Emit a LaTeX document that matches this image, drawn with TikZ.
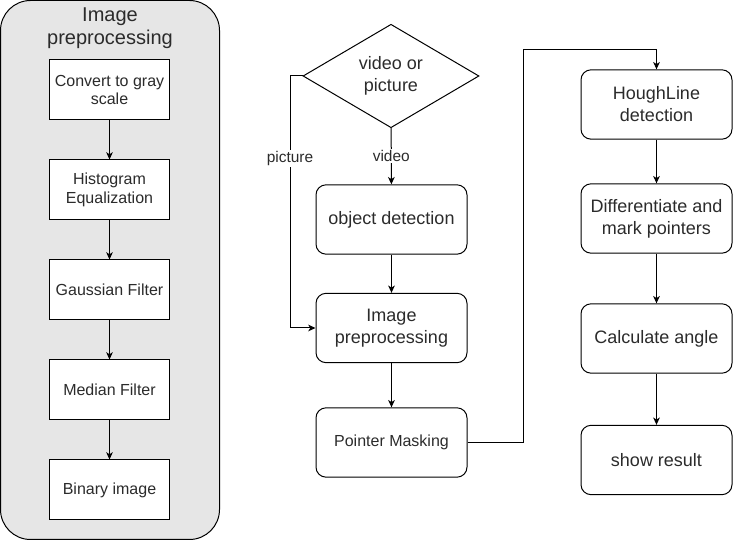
\documentclass[tikz,border=0pt]{standalone}
\usepackage{fontspec}
\setmainfont{Liberation Sans}
\usepackage{xcolor}
\usetikzlibrary{shapes.geometric}
\usetikzlibrary{arrows.meta}
\definecolor{panelgray}{HTML}{E6E6E6}
\definecolor{inkgray}{HTML}{2B2B2B}

\begin{document}
\begin{tikzpicture}[x=0.75pt, y=-0.75pt, line width=0.75pt,
        flow/.style={-{Stealth[length=5.5pt, width=5pt, inset=1.6pt]}},
        prebox/.style={draw, fill=white, inner sep=0pt, minimum width=90pt, minimum height=45pt, align=center, text=inkgray, font=\fontsize{12}{13.8}\selectfont},
        mainbox/.style={draw, rounded corners=7.5pt, inner sep=0pt, minimum width=113.25pt, minimum height=52pt, align=center, text=inkgray, font=\fontsize{13.5}{16.5}\selectfont},
        edgelabel/.style={fill=white, inner sep=1pt, text=inkgray, font=\fontsize{11.6}{13}\selectfont}]
    \useasboundingbox (0,0) rectangle (733,541);

    % image preprocessing panel
    \draw [fill=panelgray, rounded corners=22.5pt] (0.5,0.5) rectangle (219.5,539.5);
    \node (paneltitle) [align=center, text=inkgray, font=\fontsize{15}{17}\selectfont] at (110,28) {Image\\preprocessing};
    \node (gray) [prebox] at (109.5,90) {Convert to gray\\scale};
    \node (hist) [prebox] at (109.5,190) {Histogram\\Equalization};
    \node (gauss) [prebox] at (109.5,290) {Gaussian Filter};
    \node (median) [prebox] at (109.5,390) {Median Filter};
    \node (binary) [prebox] at (109.5,490) {Binary image};
    \draw [flow] (gray) -- (hist);
    \draw [flow] (hist) -- (gauss);
    \draw [flow] (gauss) -- (median);
    \draw [flow] (median) -- (binary);

    % main flow
    \node (source) [draw, diamond, inner sep=0pt, minimum width=132pt, minimum height=77.25pt, align=center, text=inkgray, font=\fontsize{13.5}{17}\selectfont] at (391,76) {video or\\picture};
    \node (objdet) [mainbox] at (391.5,219.5) {object detection};
    \node (preproc) [mainbox] at (391.5,328) {Image\\preprocessing};
    \node (masking) [mainbox, font=\fontsize{12}{13.8}\selectfont] at (391.5,442.5) {Pointer Masking};
    \node (hough) [mainbox] at (656.5,104.5) {HoughLine\\detection};
    \node (pointers) [mainbox] at (656.5,218.5) {Differentiate and\\mark pointers};
    \node (angle) [mainbox] at (656.5,338.5) {Calculate angle};
    \node (result) [mainbox] at (656.5,460) {show result};
    \coordinate (picbend) at (290,76);
    \coordinate (topbend) at (523,50);

    \draw [flow] (source) -- node [edgelabel] {video} (objdet);
    \draw [flow] (source.west) -- (picbend) |- node [edgelabel, pos=0.163] {picture} (preproc.west);
    \draw [flow] (objdet) -- (preproc);
    \draw [flow] (preproc) -- (masking);
    \draw [flow] (masking.east) -| (topbend) -| (hough.north);
    \draw [flow] (hough) -- (pointers);
    \draw [flow] (pointers) -- (angle);
    \draw [flow] (angle) -- (result);
\end{tikzpicture}
\end{document}
